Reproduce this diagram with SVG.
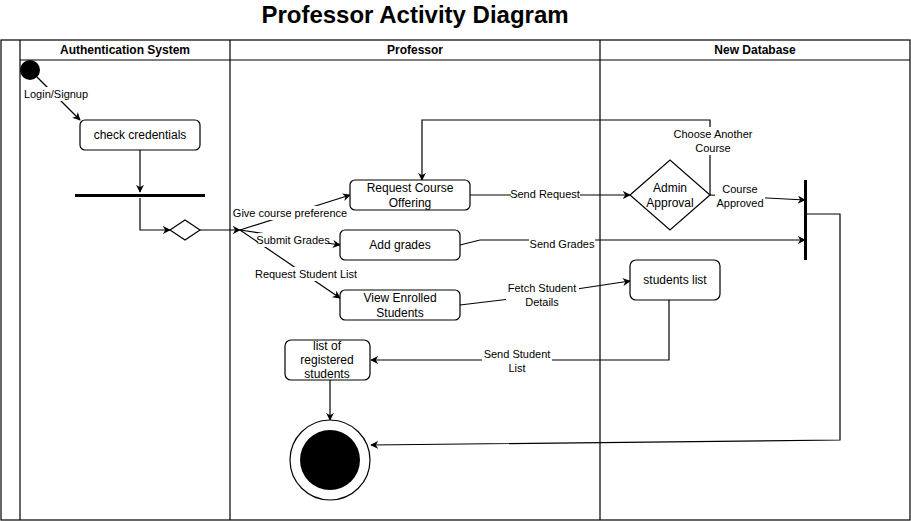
<svg xmlns="http://www.w3.org/2000/svg" width="911" height="521" viewBox="0 0 911 521">
<defs>
<marker id="arr" viewBox="0 0 10 10" refX="9" refY="5" markerWidth="8" markerHeight="8" orient="auto" markerUnits="userSpaceOnUse">
<path d="M0,0 L10,5 L0,10 L3,5 Z" fill="#000"/>
</marker>
</defs>
<style>
.t{font-family:"Liberation Sans",Arial,sans-serif;fill:#000}
.n{font-size:12px}
.l{font-size:11px}
.h{font-size:12px;font-weight:bold}
.box{fill:#fff;stroke:#000;stroke-width:1.2}
.c{fill:none;stroke:#000;stroke-width:1.2}
.lane{fill:none;stroke:#000;stroke-width:1.2}
.lb{fill:#fff}
</style>
<rect width="911" height="521" fill="#fff"/>
<text class="t" x="415" y="23" text-anchor="middle" font-size="24" font-weight="bold">Professor Activity Diagram</text>
<g id="swimlanes">
<rect class="lane" x="1" y="40" width="909" height="480"/>
<line class="lane" x1="20" y1="40" x2="20" y2="520"/>
<line class="lane" x1="20" y1="60" x2="910" y2="60"/>
<line class="lane" x1="230" y1="40" x2="230" y2="520"/>
<line class="lane" x1="600" y1="40" x2="600" y2="520"/>
<text class="t h" x="125" y="54" text-anchor="middle">Authentication System</text>
<text class="t h" x="415" y="54" text-anchor="middle">Professor</text>
<text class="t h" x="755" y="54" text-anchor="middle">New Database</text>
</g>
<g id="connectors">
<line class="c" x1="37" y1="77" x2="80" y2="120" marker-end="url(#arr)"/>
<line class="c" x1="140" y1="150" x2="140" y2="192" marker-end="url(#arr)"/>
<polyline class="c" points="140,198 140,230 170,230" marker-end="url(#arr)"/>
<line class="c" x1="200" y1="230" x2="240" y2="230" marker-end="url(#arr)"/>
<line class="c" x1="240" y1="230" x2="350" y2="195" marker-end="url(#arr)"/>
<line class="c" x1="240" y1="230" x2="340" y2="245" marker-end="url(#arr)"/>
<line class="c" x1="240" y1="230" x2="340" y2="298" marker-end="url(#arr)"/>
<line class="c" x1="470" y1="195" x2="630" y2="195" marker-end="url(#arr)"/>
<polyline class="c" points="710,195 710,120 422,120 422,180" marker-end="url(#arr)"/>
<polyline class="c" points="710,195 805,200" marker-end="url(#arr)"/>
<polyline class="c" points="460,245 480,240 805,240" marker-end="url(#arr)"/>
<polyline class="c" points="460,305 510,299 630,281" marker-end="url(#arr)"/>
<polyline class="c" points="669,300 669,360 371,360" marker-end="url(#arr)"/>
<line class="c" x1="330" y1="380" x2="330" y2="420" marker-end="url(#arr)"/>
<polyline class="c" points="806,214 840,214 840,440 371,445" marker-end="url(#arr)"/>
<rect class="lb" x="22" y="87" width="68" height="14"/>
<text class="t l" x="56" y="98" text-anchor="middle">Login/Signup</text>
<rect class="lb" x="233" y="206" width="115" height="14"/>
<text class="t l" x="290" y="217" text-anchor="middle">Give course preference</text>
<rect class="lb" x="258" y="233" width="70" height="14"/>
<text class="t l" x="293" y="244" text-anchor="middle">Submit Grades</text>
<rect class="lb" x="253" y="267" width="106" height="14"/>
<text class="t l" x="306" y="278" text-anchor="middle">Request Student List</text>
<rect class="lb" x="511" y="187" width="69" height="14"/>
<text class="t l" x="545" y="198" text-anchor="middle">Send Request</text>
<rect class="lb" x="672" y="127" width="82" height="28"/>
<text class="t l" x="713" y="138" text-anchor="middle">Choose Another</text>
<text class="t l" x="713" y="152" text-anchor="middle">Course</text>
<rect class="lb" x="715" y="182" width="50" height="28"/>
<text class="t l" x="740" y="193" text-anchor="middle">Course</text>
<text class="t l" x="740" y="207" text-anchor="middle">Approved</text>
<rect class="lb" x="529" y="237" width="66" height="14"/>
<text class="t l" x="562" y="248" text-anchor="middle">Send Grades</text>
<rect class="lb" x="506" y="281" width="73" height="28"/>
<text class="t l" x="542" y="292" text-anchor="middle">Fetch Student</text>
<text class="t l" x="542" y="306" text-anchor="middle">Details</text>
<rect class="lb" x="482" y="347" width="70" height="28"/>
<text class="t l" x="517" y="358" text-anchor="middle">Send Student</text>
<text class="t l" x="517" y="372" text-anchor="middle">List</text>
</g>
<g id="start"><circle cx="30" cy="70" r="10" fill="#000"/></g>
<g id="check-credentials">
<rect class="box" x="80" y="120" width="120" height="30" rx="5"/>
<text class="t n" x="140" y="139" text-anchor="middle">check credentials</text>
</g>
<g id="fork"><rect x="75" y="194" width="130" height="3" fill="#000"/></g>
<g id="decision"><polygon class="box" points="170,230 185,220 200,230 185,240"/></g>
<g id="request-course">
<rect class="box" x="350" y="180" width="120" height="30" rx="5"/>
<text class="t n" x="410" y="192" text-anchor="middle">Request Course</text>
<text class="t n" x="410" y="207" text-anchor="middle">Offering</text>
</g>
<g id="add-grades">
<rect class="box" x="340" y="230" width="120" height="30" rx="5"/>
<text class="t n" x="400" y="249" text-anchor="middle">Add grades</text>
</g>
<g id="view-enrolled">
<rect class="box" x="340" y="290" width="120" height="30" rx="5"/>
<text class="t n" x="400" y="302" text-anchor="middle">View Enrolled</text>
<text class="t n" x="400" y="317" text-anchor="middle">Students</text>
</g>
<g id="admin-approval">
<polygon class="box" points="630,195 670,160 710,195 670,230"/>
<text class="t n" x="670" y="192" text-anchor="middle">Admin</text>
<text class="t n" x="670" y="207" text-anchor="middle">Approval</text>
</g>
<g id="join"><rect x="804" y="180" width="3" height="80" fill="#000"/></g>
<g id="students-list">
<rect class="box" x="630" y="260" width="90" height="40" rx="6"/>
<text class="t n" x="675" y="284" text-anchor="middle">students list</text>
</g>
<g id="registered-list">
<rect class="box" x="285" y="340" width="85" height="40" rx="6"/>
<text class="t n" x="327" y="350" text-anchor="middle">list of</text>
<text class="t n" x="327" y="364" text-anchor="middle">registered</text>
<text class="t n" x="327" y="378" text-anchor="middle">students</text>
</g>
<g id="end">
<circle cx="330" cy="460" r="40" fill="#fff" stroke="#000" stroke-width="1.2"/>
<circle cx="330" cy="460" r="30" fill="#000"/>
</g>
</svg>
